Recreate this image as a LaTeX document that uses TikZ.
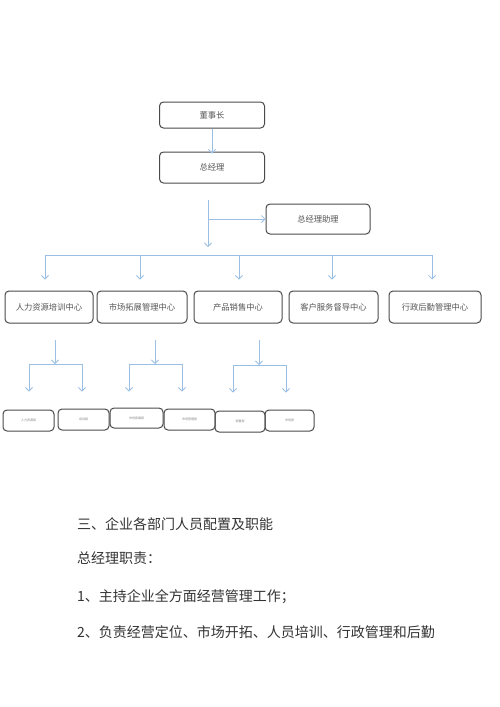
\documentclass[tikz,border=0pt]{standalone}
\usepackage{fontspec}
\newfontfamily\cjk{Noto Sans CJK SC}
\usetikzlibrary{arrows.meta}
\definecolor{lineblue}{HTML}{9BBFE4}
\definecolor{boxgray}{HTML}{4A4A4A}
\definecolor{txtgray}{HTML}{555555}
\definecolor{bodytxt}{HTML}{333333}
\begin{document}
\begin{tikzpicture}[x=1pt,y=-1pt,
  box/.style={draw=boxgray,line width=1pt,rounded corners=4pt,inner sep=0pt,
    font=\cjk\fontsize{8.3}{9}\selectfont,text=txtgray,text depth=-2.5pt},
  smallbox/.style={box,font=\cjk\fontsize{3}{3.5}\selectfont,text=gray,text depth=-3pt},
  conn/.style={draw=lineblue,line width=0.8pt},
  arr/.style={conn,-{Straight Barb[length=3.5pt,width=7pt]}},
  body/.style={anchor=west,inner sep=0pt,font=\cjk\fontsize{14}{15}\selectfont,text=bodytxt}]
\useasboundingbox[fill=white] (0,0) rectangle (500,707);
% top
\node[box,minimum width=105pt,minimum height=26pt] (dsz) at (212,115) {董事长};
\node[box,minimum width=105pt,minimum height=31pt] (zjl) at (212,167.5) {总经理};
\node[box,minimum width=104pt,minimum height=30pt] (zl) at (318,219) {总经理助理};
\draw[arr] (dsz.south) -- ([yshift=-2pt]zjl.north);
\coordinate (t0) at (208,200);
\coordinate (t1) at (208,219);
\coordinate (t2) at (208,247);
\draw[arr] (t0) -- (t2);
\draw[arr] (t1) -- (zl.west);
% centers
\node[box,minimum width=88pt,minimum height=32pt] (c1) at (49,307) {人力资源培训中心};
\node[box,minimum width=90pt,minimum height=32pt] (c2) at (142,307) {市场拓展管理中心};
\node[box,minimum width=88pt,minimum height=32pt] (c3) at (238,307) {产品销售中心};
\node[box,minimum width=89pt,minimum height=32pt] (c4) at (333.5,307) {客户服务督导中心};
\node[box,minimum width=92pt,minimum height=32pt] (c5) at (435,307) {行政后勤管理中心};
\coordinate (d1) at (45,255);
\coordinate (d2) at (140,255);
\coordinate (d3) at (239,255);
\coordinate (d4) at (332,255);
\coordinate (d5) at (432,255);
\draw[conn] (d1) -- (d5);
\foreach \i in {1,...,5}{
  \draw[arr,shorten >=11pt] (d\i) -- (d\i |- c\i.north);
}
% bottom boxes
\node[smallbox,minimum width=51pt,minimum height=21pt] (b1) at (28.5,420.5) {人力资源部};
\node[smallbox,minimum width=51pt,minimum height=21pt] (b2) at (83.5,419.5) {培训部};
\node[smallbox,minimum width=53pt,minimum height=20pt] (b3) at (136.5,418) {市场拓展部};
\node[smallbox,minimum width=51pt,minimum height=21pt] (b4) at (189.5,419.5) {市场管理部};
\node[smallbox,minimum width=50pt,minimum height=21pt] (b5) at (240,421.5) {销售部};
\node[smallbox,minimum width=49pt,minimum height=21pt] (b6) at (289.5,420.5) {市场部};
% sub groups
\coordinate (g1t) at (55,340); \coordinate (g1m) at (55,364);
\coordinate (g1l) at (29,364); \coordinate (g1r) at (82,364);
\coordinate (g2t) at (155,340); \coordinate (g2m) at (155,364);
\coordinate (g2l) at (129,364); \coordinate (g2r) at (182,364);
\coordinate (g3t) at (259,340); \coordinate (g3m) at (259,365);
\coordinate (g3l) at (233,365); \coordinate (g3r) at (286,365);
\draw[arr] (g1t) -- (g1m);
\draw[arr] (g2t) -- (g2m);
\draw[arr] (g3t) -- (g3m);
\draw[conn] (g1l) -- (g1r);
\draw[conn] (g2l) -- (g2r);
\draw[conn] (g3l) -- (g3r);
\draw[arr,shorten >=18pt] (g1l) -- (g1l |- b1.north);
\draw[arr,shorten >=17pt] (g1r) -- (g1r |- b2.north);
\draw[arr,shorten >=16pt] (g2l) -- (g2l |- b3.north);
\draw[arr,shorten >=17pt] (g2r) -- (g2r |- b4.north);
\draw[arr,shorten >=18pt] (g3l) -- (g3l |- b5.north);
\draw[arr,shorten >=17pt] (g3r) -- (g3r |- b6.north);
% body text
\node[body] (l1) at (77,524) {三、企业各部门人员配置及职能};
\node[body] (l2) at (77,558) {总经理职责：};
\node[body] (l3) at (77,597) {1、主持企业全方面经营管理工作；};
\node[body] (l4) at (77,632) {2、负责经营定位、市场开拓、人员培训、行政管理和后勤};
\end{tikzpicture}
\end{document}
